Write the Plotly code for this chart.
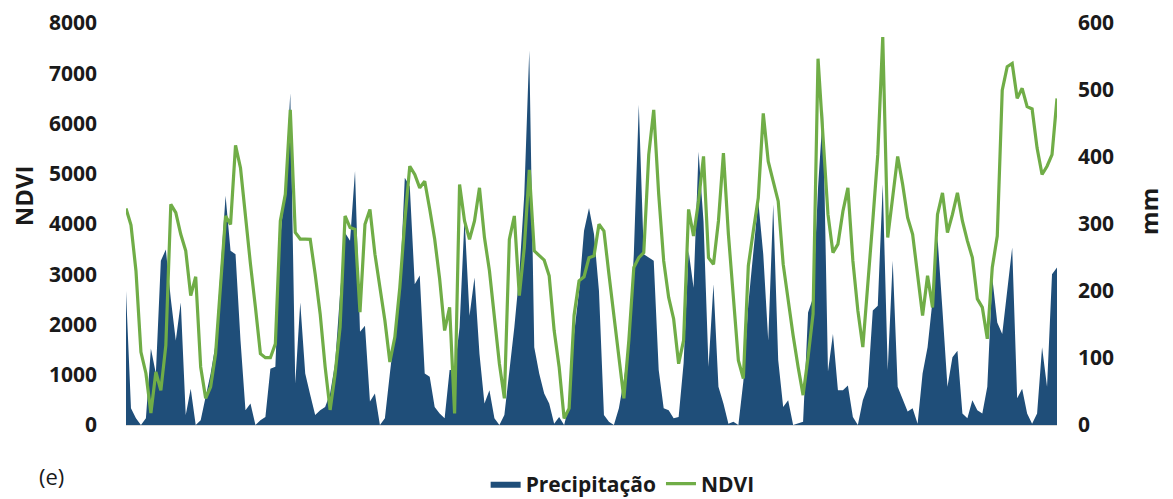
import plotly.graph_objects as go

# Monthly series (index of month)
ndvi = [4310, 3980, 3070, 1450, 1030, 240, 1055, 690, 1585, 4390, 4225, 3795, 3465, 2575, 2950, 1155,
        530, 760, 1420, 2740, 4160, 3990, 5565, 5115, 4125, 3200, 2340, 1420, 1340, 1340, 1615, 4060,
        4590, 6270, 3830, 3700, 3700, 3695, 3000, 2210, 1155, 300, 1020, 1950, 4160, 3930, 3895, 2245,
        3995, 4290, 3400, 2740, 2080, 1255, 1750, 2740, 4060, 5150, 4985, 4720, 4850,
        4300, 3700, 2905, 1880, 2340, 230, 4785, 4060, 3695, 4060, 4720, 3730, 3070, 2080, 1220, 530,
        3695, 4160, 2575, 3530, 5080, 3465, 3365, 3280, 2970, 1880, 1155, 130, 330, 2180, 2870, 2950, 3330,
        3365, 3995, 3860, 3000, 2210, 1350, 530, 1685, 3135, 3330, 3430, 5380, 6270, 4590, 3265, 2540,
        2110, 1220, 1685, 4290, 3760, 4455, 5345, 3330, 3200, 4060, 5410, 3795, 2475, 1285,
        925, 3170, 3860, 4520, 6200, 5245, 4850, 4455, 3200, 2475, 1780, 1155, 595, 1350, 2210, 7290,
        5675, 4190, 3430, 3600, 4255, 4720, 3265, 2275, 1550, 2740, 4060, 5380, 7720, 3730, 4520, 5345,
        4785, 4125, 3795, 3000, 2180, 2970, 2340, 4190, 4620, 3830, 4190, 4620, 4060, 3665, 3330, 2510,
        2340, 1715, 3135, 3760, 6665, 7130, 7195, 6500, 6700, 6335, 6290, 5510, 4985, 5150, 5380, 6500]

precip = [200, 25, 10, 0, 10, 114, 77, 245, 262, 188, 126, 183, 15, 54, 0, 7,
          42, 77, 121, 235, 342, 260, 255, 126, 22, 32, 0, 7, 12, 84, 87, 280,
          360, 495, 62, 183, 77, 45, 15, 22, 27, 47, 92, 196, 287, 275, 379, 139,
          148, 35, 47, 0, 10, 77, 140, 205, 369, 356, 210, 223, 77, 72,
          27, 17, 10, 82, 82, 146, 309, 163, 220, 106, 32, 52, 10, 0, 15, 77,
          146, 225, 344, 559, 116, 77, 47, 32, 2, 12, 0, 30, 136, 200, 290, 324,
          285, 200, 15, 5, 0, 25, 67, 121, 255, 478, 255, 250, 245, 82, 25, 22,
          10, 12, 92, 260, 205, 408, 304, 87, 210, 57, 32, 2, 5, 0,
          65, 181, 255, 334, 255, 126, 329, 97, 27, 37, 0, 2, 5, 168, 190, 354,
          470, 80, 136, 52, 52, 59, 12, 0, 37, 57, 171, 178, 359, 82, 245, 57,
          37, 20, 25, 2, 77, 116, 186, 280, 171, 57, 101, 111, 17, 10, 37, 22,
          17, 57, 220, 153, 136, 200, 265, 40, 54, 17, 2, 17, 116, 57, 225, 235]

months = list(range(len(ndvi)))

ndvi_ticks = [0, 1000, 2000, 3000, 4000, 5000, 6000, 7000, 8000]
mm_ticks = [0, 100, 200, 300, 400, 500, 600]

BLUE = "#1F4E79"
GREEN = "#70AD47"
FONT = "Open Sans"
TXT = "#1a1a1a"

fig = go.Figure()
fig.add_trace(go.Scatter(
    x=months, y=precip, name="Precipitação", mode="lines",
    line=dict(width=0, color=BLUE), fill="tozeroy", fillcolor=BLUE,
    yaxis="y"))
fig.add_trace(go.Scatter(
    x=months, y=ndvi, name="NDVI", mode="lines",
    line=dict(width=3.2, color=GREEN), yaxis="y2"))

tickfont = dict(family=FONT, size=21, color=TXT, weight="bold")

fig.update_layout(
    width=1173, height=499,
    margin=dict(l=118, r=124, t=15, b=82, autoexpand=False),
    paper_bgcolor="white", plot_bgcolor="white",
    showlegend=True,
    legend=dict(orientation="h", xref="container", yref="container",
                x=0.524, xanchor="center", y=0.046, yanchor="middle",
                font=dict(family=FONT, size=21, color=TXT, weight="bold"),
                traceorder="normal", itemwidth=30, bgcolor="rgba(0,0,0,0)"),
    xaxis=dict(range=[0, len(ndvi) - 1], showticklabels=False, ticks="",
               showgrid=False, zeroline=False, showline=True, linecolor="#d9d9d9", linewidth=1),
    yaxis=dict(side="right", range=[0, 600], tickvals=mm_ticks, showgrid=False, zeroline=False,
               tickfont=tickfont, ticks="", ticklabelstandoff=20, ticklabeloverflow="allow"),
    yaxis2=dict(side="left", overlaying="y", range=[0, 8000], tickvals=ndvi_ticks,
                showgrid=False, zeroline=False, tickfont=tickfont, ticks="", ticklabelstandoff=28,
                ticklabeloverflow="allow"),
    annotations=[
        dict(text="NDVI", xref="paper", yref="paper", x=-0.1106, y=0.569, textangle=-90,
             xanchor="center", yanchor="middle",
             showarrow=False, font=dict(family=FONT, size=24, color=TXT, weight="bold")),
        dict(text="mm", xref="paper", yref="paper", x=1.0975, y=0.532, textangle=-90,
             xanchor="center", yanchor="middle",
             showarrow=False, font=dict(family=FONT, size=24, color=TXT, weight="bold")),
        dict(text="(e)", xref="paper", yref="paper", x=-0.080, y=-0.126,
             xanchor="center", yanchor="middle",
             showarrow=False, font=dict(family=FONT, size=22, color=TXT)),
    ],
)

fig.write_html("out.html")
